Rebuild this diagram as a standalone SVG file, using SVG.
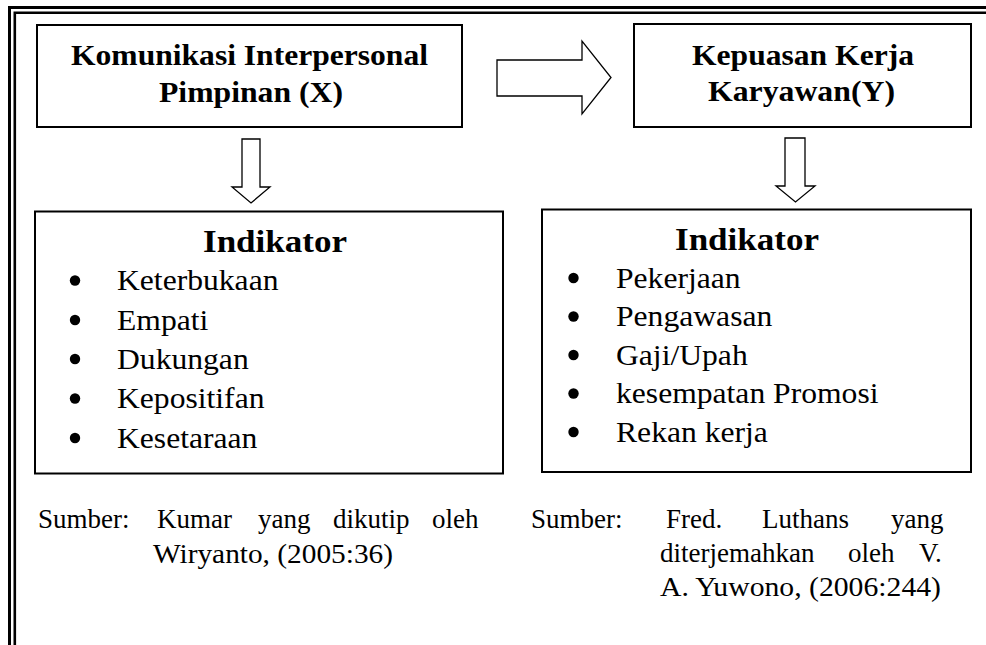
<svg xmlns="http://www.w3.org/2000/svg" width="986" height="645" viewBox="0 0 986 645">
<style>
.bx{fill:#fff;stroke:#000;stroke-width:2}
.fr{fill:none;stroke:#000}
.ar{fill:#fff;stroke:#000;stroke-width:1.3;stroke-linejoin:miter}
.t{font-family:"Liberation Serif","Times New Roman",serif;fill:#000}
.h{font-size:29px;font-weight:bold}
.ik{font-size:32px;font-weight:bold}
.b{font-size:29px}
.s{font-size:27px}
.dot{fill:#000}
</style>
<rect width="986" height="645" fill="#fff"/>
<g id="frame">
<path class="fr" d="M986,7.5 H9.5 V645" stroke-width="3"/>
<path class="fr" d="M986,12.8 H14.8 V645" stroke-width="2.6"/>
</g>
<g id="connectors">
<polygon class="ar" points="497,60 582,60 582,41 611,77.5 582,114 582,96 497,96"/>
<polygon class="ar" points="242,139 260,139 260,187 270,187 251,203 232,187 242,187"/>
<polygon class="ar" points="785,138 805,138 805,186 815,186 795.5,202 776,186 785,186"/>
</g>
<g id="node-x">
<rect class="bx" x="37" y="25" width="425" height="102"/>
<text class="t h" x="249.5" y="65" text-anchor="middle" textLength="357" lengthAdjust="spacingAndGlyphs">Komunikasi Interpersonal</text>
<text class="t h" x="251" y="101.5" text-anchor="middle" textLength="184" lengthAdjust="spacingAndGlyphs">Pimpinan (X)</text>
</g>
<g id="node-y">
<rect class="bx" x="634" y="24" width="337" height="103"/>
<text class="t h" x="803" y="64.5" text-anchor="middle" textLength="222" lengthAdjust="spacingAndGlyphs">Kepuasan Kerja</text>
<text class="t h" x="801.5" y="100.5" text-anchor="middle" textLength="187" lengthAdjust="spacingAndGlyphs">Karyawan(Y)</text>
</g>
<g id="indikator-x">
<rect class="bx" x="35" y="211.5" width="468" height="262"/>
<text class="t ik" x="203" y="252" textLength="144" lengthAdjust="spacingAndGlyphs">Indikator</text>
<circle class="dot" cx="75" cy="280.5" r="5.2"/>
<text class="t b" x="117" y="290" textLength="161.5" lengthAdjust="spacingAndGlyphs">Keterbukaan</text>
<circle class="dot" cx="75" cy="320" r="5.2"/>
<text class="t b" x="117" y="329.5" textLength="91.3" lengthAdjust="spacingAndGlyphs">Empati</text>
<circle class="dot" cx="75" cy="359" r="5.2"/>
<text class="t b" x="117" y="368.5" textLength="131.7" lengthAdjust="spacingAndGlyphs">Dukungan</text>
<circle class="dot" cx="75" cy="398.5" r="5.2"/>
<text class="t b" x="117" y="408" textLength="147.5" lengthAdjust="spacingAndGlyphs">Kepositifan</text>
<circle class="dot" cx="75" cy="438" r="5.2"/>
<text class="t b" x="117" y="447.5" textLength="140.4" lengthAdjust="spacingAndGlyphs">Kesetaraan</text>
</g>
<g id="indikator-y">
<rect class="bx" x="542" y="209.5" width="429" height="262.5"/>
<text class="t ik" x="675" y="250" textLength="144" lengthAdjust="spacingAndGlyphs">Indikator</text>
<circle class="dot" cx="573.5" cy="278" r="5.2"/>
<text class="t b" x="616" y="287.5" textLength="124.6" lengthAdjust="spacingAndGlyphs">Pekerjaan</text>
<circle class="dot" cx="573.5" cy="316.5" r="5.2"/>
<text class="t b" x="616" y="326" textLength="156.3" lengthAdjust="spacingAndGlyphs">Pengawasan</text>
<circle class="dot" cx="573.5" cy="355" r="5.2"/>
<text class="t b" x="616" y="364.5" textLength="131.7" lengthAdjust="spacingAndGlyphs">Gaji/Upah</text>
<circle class="dot" cx="573.5" cy="393.5" r="5.2"/>
<text class="t b" x="616" y="403" textLength="262.5" lengthAdjust="spacingAndGlyphs">kesempatan Promosi</text>
<circle class="dot" cx="573.5" cy="432" r="5.2"/>
<text class="t b" x="616" y="441.5" textLength="151.9" lengthAdjust="spacingAndGlyphs">Rekan kerja</text>
</g>
<g id="sumber-x">
<text class="t s" y="528"><tspan x="38">Sumber:</tspan><tspan x="157">Kumar</tspan><tspan x="258">yang</tspan><tspan x="333">dikutip</tspan><tspan x="432">oleh</tspan></text>
<text class="t s" x="153" y="563" textLength="240" lengthAdjust="spacingAndGlyphs">Wiryanto, (2005:36)</text>
</g>
<g id="sumber-y">
<text class="t s" y="528"><tspan x="531">Sumber:</tspan><tspan x="666">Fred.</tspan><tspan x="762">Luthans</tspan><tspan x="891">yang</tspan></text>
<text class="t s" y="562"><tspan x="660">diterjemahkan</tspan><tspan x="848">oleh</tspan><tspan x="919">V.</tspan></text>
<text class="t s" x="660" y="595.5" textLength="281" lengthAdjust="spacingAndGlyphs">A. Yuwono, (2006:244)</text>
</g>
</svg>
